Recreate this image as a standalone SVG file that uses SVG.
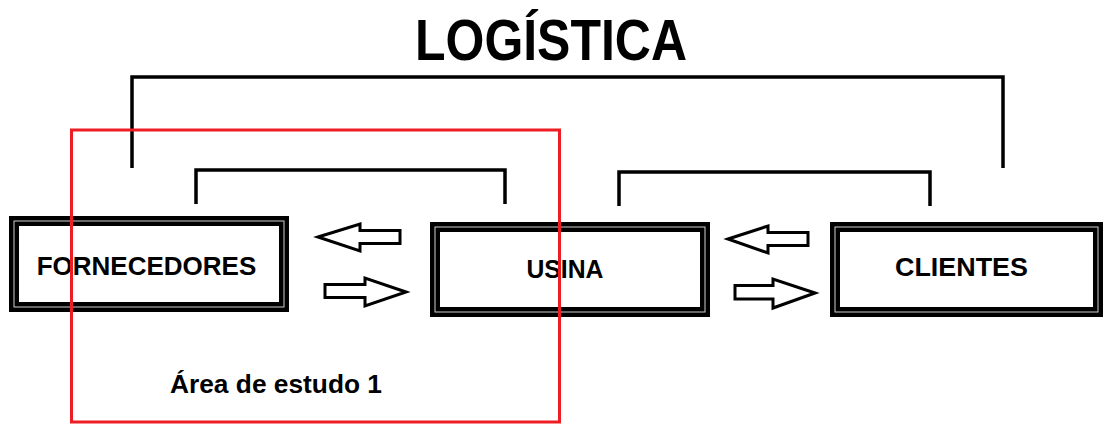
<svg xmlns="http://www.w3.org/2000/svg" width="1105" height="425" viewBox="0 0 1105 425">
  <style>
    .frame-out { fill: none; stroke: #000; stroke-width: 10; }
    .frame-in { fill: none; stroke: #cfcfcf; stroke-width: 1; }
    .label { font-family: "Liberation Sans", Arial, sans-serif; font-weight: bold; fill: #000; }
    .link { fill: none; stroke: #000; stroke-width: 3.5; stroke-linecap: butt; stroke-linejoin: miter; }
    .flow { fill: #fff; stroke: #000; stroke-width: 3; stroke-linejoin: miter; }
    .scope { fill: none; stroke: #ee1c24; stroke-width: 3; }
  </style>

  <rect width="1105" height="425" fill="#fff"/>

  <g id="title">
    <text class="label" x="415" y="60" font-size="58" textLength="272" lengthAdjust="spacingAndGlyphs">LOGÍSTICA</text>
  </g>

  <g id="connectors">
    <!-- outer bracket spanning suppliers to clients -->
    <path class="link" d="M132 168 V77 H1003 V168"/>
    <!-- supplier to plant bracket -->
    <path class="link" d="M196 204 V170 H505 V204"/>
    <!-- plant to clients bracket -->
    <path class="link" d="M619 206 V172 H930 V206"/>
    <!-- block arrows between plant and suppliers -->
    <path class="flow" d="M318 237 L360 224 V230.5 H400 V243.5 H360 V251 Z"/>
    <path class="flow" d="M406 292 L365 278 V284.5 H325 V297.5 H365 V306 Z"/>
    <!-- block arrows between plant and clients -->
    <path class="flow" d="M728 239 L768 226 V232.5 H808 V245.5 H768 V253 Z"/>
    <path class="flow" d="M815 293 L773 279 V285.5 H735 V299 H773 V308 Z"/>
  </g>

  <g id="fornecedores">
    <rect class="frame-out" x="14" y="221" width="270" height="86"/>
    <rect class="frame-in" x="14" y="221" width="270" height="86"/>
    <text class="label" x="146.5" y="275" font-size="26" text-anchor="middle">FORNECEDORES</text>
  </g>

  <g id="usina">
    <rect class="frame-out" x="435" y="227" width="270" height="85"/>
    <rect class="frame-in" x="435" y="227" width="270" height="85"/>
    <text class="label" x="565" y="278" font-size="26" text-anchor="middle" textLength="77" lengthAdjust="spacingAndGlyphs">USINA</text>
  </g>

  <g id="clientes">
    <rect class="frame-out" x="835" y="227" width="263" height="85"/>
    <rect class="frame-in" x="835" y="227" width="263" height="85"/>
    <text class="label" x="961.5" y="276" font-size="26" text-anchor="middle" textLength="133" lengthAdjust="spacingAndGlyphs">CLIENTES</text>
  </g>

  <g id="area-estudo">
    <rect class="scope" x="71.5" y="130" width="488" height="292"/>
    <text class="label" x="170" y="393" font-size="26" textLength="212" lengthAdjust="spacingAndGlyphs">Área de estudo 1</text>
  </g>
</svg>
